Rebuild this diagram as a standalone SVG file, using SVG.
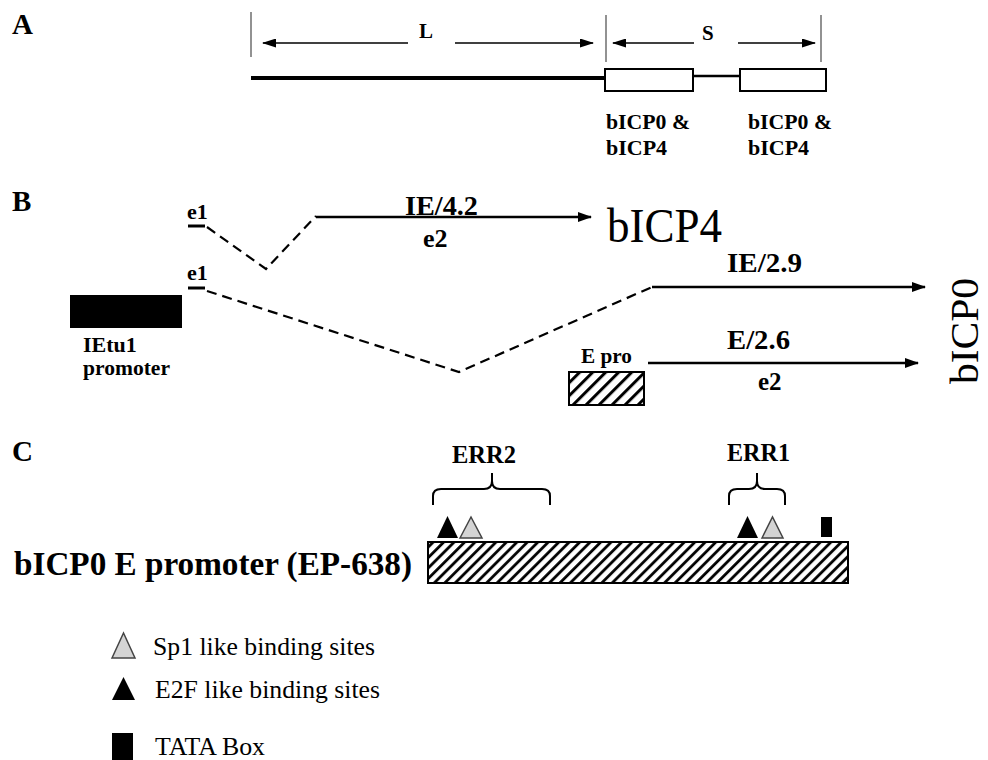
<svg xmlns="http://www.w3.org/2000/svg" width="988" height="760" viewBox="0 0 988 760">
<style>
.t{font-family:"Liberation Serif","Times New Roman",serif;fill:#000}
.b{font-weight:bold}
.ln{stroke:#000;fill:none}
.dash{stroke:#000;stroke-width:2.2;fill:none;stroke-dasharray:10 6}
.tick{stroke:#777;stroke-width:1.6}
.grey{fill:#d4d4d4;stroke:#444;stroke-width:1.5}
</style>
<defs>
<marker id="ah" markerUnits="userSpaceOnUse" markerWidth="14" markerHeight="10" refX="13" refY="5" orient="auto"><path d="M0,0 L14,5 L0,10 z" fill="#000"/></marker>
<marker id="ahs" markerUnits="userSpaceOnUse" markerWidth="14" markerHeight="9" refX="13" refY="4.5" orient="auto"><path d="M0,0 L14,4.5 L0,9 z" fill="#000"/></marker>
<pattern id="hatch" patternUnits="userSpaceOnUse" width="7.4" height="7.4" patternTransform="rotate(45)"><line x1="1.5" y1="0" x2="1.5" y2="7.4" stroke="#000" stroke-width="2.8"/></pattern>
<pattern id="hatch2" patternUnits="userSpaceOnUse" width="9.2" height="9.2" patternTransform="rotate(45)"><line x1="1.5" y1="0" x2="1.5" y2="9.2" stroke="#000" stroke-width="3"/></pattern>
</defs>

<g id="panel-labels">
<text class="t b" x="12" y="34" font-size="29">A</text>
<text class="t b" x="12" y="211" font-size="29">B</text>
<text class="t b" x="12" y="461" font-size="29">C</text>
</g>

<g id="panel-A">
<line class="tick" x1="251" y1="12" x2="251" y2="57"/>
<line class="tick" x1="606" y1="15" x2="606" y2="62"/>
<line class="tick" x1="821" y1="15" x2="821" y2="62"/>
<line class="ln" x1="251" y1="78" x2="605" y2="78" stroke-width="4"/>
<line class="ln" x1="693" y1="76" x2="740" y2="76" stroke-width="2.5"/>
<rect id="boxS1" x="605" y="69" width="88" height="22" fill="#fff" stroke="#000" stroke-width="2"/>
<rect id="boxS2" x="740" y="69" width="86" height="22" fill="#fff" stroke="#000" stroke-width="2"/>
<text class="t b" x="419" y="38" font-size="21">L</text>
<text class="t b" x="702" y="40" font-size="21">S</text>
<text class="t b" x="606" y="129" font-size="22" textLength="84" lengthAdjust="spacingAndGlyphs">bICP0 &amp;</text>
<text class="t b" x="606" y="155" font-size="22">bICP4</text>
<text class="t b" x="748" y="129" font-size="22" textLength="84" lengthAdjust="spacingAndGlyphs">bICP0 &amp;</text>
<text class="t b" x="748" y="155" font-size="22">bICP4</text>
</g>

<g id="panel-B">
<g id="e1-top"><text class="t b" x="187" y="219" font-size="22">e1</text><line class="ln" x1="188" y1="226" x2="205" y2="226" stroke-width="3"/></g>
<g id="e1-bottom"><text class="t b" x="187" y="280" font-size="22">e1</text><line class="ln" x1="188" y1="288" x2="205" y2="288" stroke-width="3"/></g>
<g id="IEtu1"><rect x="70" y="295" width="112" height="33" fill="#000"/>
<text class="t b" x="83" y="352" font-size="22">IEtu1</text>
<text class="t b" x="83" y="375" font-size="22" textLength="87" lengthAdjust="spacingAndGlyphs">promoter</text></g>
<g id="Epro"><rect x="569" y="372" width="75" height="33" fill="url(#hatch2)" stroke="#000" stroke-width="2"/>
<text class="t b" x="581" y="363" font-size="20" textLength="51" lengthAdjust="spacingAndGlyphs">E pro</text></g>
<text class="t b" x="405" y="215" font-size="28" textLength="73" lengthAdjust="spacingAndGlyphs">IE/4.2</text>
<text class="t b" x="423" y="247" font-size="26">e2</text>
<text class="t" x="607" y="242" font-size="48" textLength="115" lengthAdjust="spacingAndGlyphs">bICP4</text>
<text class="t b" x="727" y="272" font-size="27" textLength="75" lengthAdjust="spacingAndGlyphs">IE/2.9</text>
<text class="t b" x="727" y="349" font-size="27" textLength="63" lengthAdjust="spacingAndGlyphs">E/2.6</text>
<text class="t b" x="758" y="390" font-size="25">e2</text>
<text class="t" transform="translate(978,384) rotate(-90)" font-size="40" textLength="106" lengthAdjust="spacingAndGlyphs">bICP0</text>
</g>

<g id="panel-C">
<rect id="EP638" x="428" y="542" width="420" height="41" fill="url(#hatch)" stroke="#000" stroke-width="2"/>
<text class="t b" x="14" y="575" font-size="34" textLength="398" lengthAdjust="spacingAndGlyphs">bICP0 E promoter (EP-638)</text>
<text class="t b" x="452" y="463" font-size="25" textLength="64" lengthAdjust="spacingAndGlyphs">ERR2</text>
<text class="t b" x="727" y="461" font-size="25" textLength="63" lengthAdjust="spacingAndGlyphs">ERR1</text>
<path class="ln" stroke-width="2" d="M433,505 L433,496 Q433,489 441,489 L484,489 Q492,489 492,481 L492,473 M492,481 Q492,489 500,489 L542,489 Q550,489 550,496 L550,505"/>
<path class="ln" stroke-width="2" d="M729,505 L729,496 Q729,489 737,489 L749,489 Q757,489 757,481 L757,473 M757,481 Q757,489 765,489 L777,489 Q785,489 785,496 L785,505"/>
<path d="M437,538 L447.5,516 L458,538 z" fill="#000"/>
<path class="grey" d="M460,538 L471,517 L482,538 z"/>
<path d="M737,538 L747.5,516 L758,538 z" fill="#000"/>
<path class="grey" d="M762,538 L772.5,517 L783,538 z"/>
<rect id="TATA" x="821" y="517" width="11" height="20" fill="#000"/>
</g>

<g id="legend">
<path class="grey" d="M112,658 L123.5,633 L135,658 z"/>
<text class="t" x="153" y="655" font-size="26" textLength="222" lengthAdjust="spacingAndGlyphs">Sp1 like binding sites</text>
<path d="M112,700 L123.5,677 L135,700 z" fill="#000"/>
<text class="t" x="155" y="698" font-size="26" textLength="225" lengthAdjust="spacingAndGlyphs">E2F like binding sites</text>
<rect x="112" y="733" width="21" height="27" fill="#000"/>
<text class="t" x="155" y="755" font-size="26" textLength="110" lengthAdjust="spacingAndGlyphs">TATA Box</text>
</g>

<g id="connectors">
<line class="ln" x1="408" y1="43" x2="263" y2="43" stroke-width="1.6" marker-end="url(#ahs)"/>
<line class="ln" x1="455" y1="43" x2="593" y2="43" stroke-width="1.6" marker-end="url(#ahs)"/>
<line class="ln" x1="694" y1="43" x2="613" y2="43" stroke-width="1.6" marker-end="url(#ahs)"/>
<line class="ln" x1="738" y1="43" x2="815" y2="43" stroke-width="1.6" marker-end="url(#ahs)"/>
<polyline class="dash" points="207,227 266,269 316,216"/>
<polyline class="dash" points="207,291 459,372 652,287"/>
<line class="ln" x1="316" y1="217" x2="591" y2="217" stroke-width="2.5" marker-end="url(#ah)"/>
<line class="ln" x1="652" y1="287" x2="925" y2="287" stroke-width="2.5" marker-end="url(#ah)"/>
<line class="ln" x1="648" y1="363" x2="918" y2="363" stroke-width="2.5" marker-end="url(#ah)"/>
</g>
</svg>
